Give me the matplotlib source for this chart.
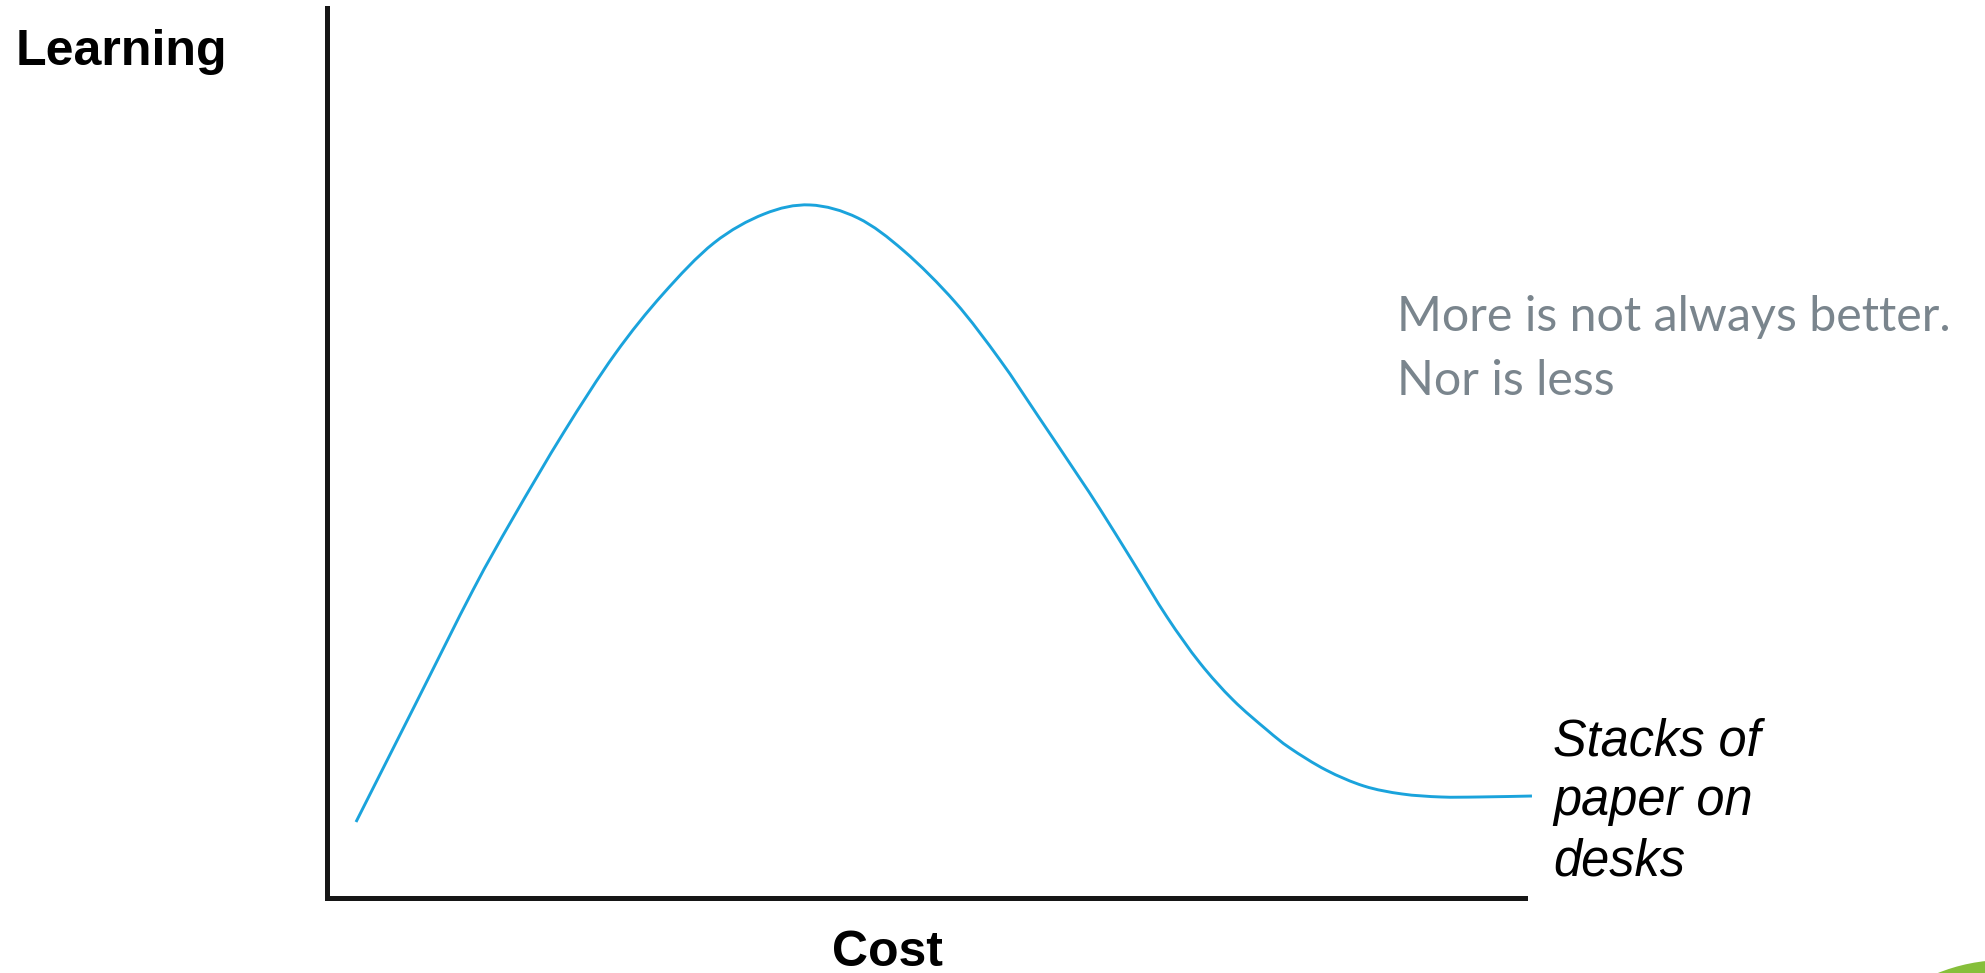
import matplotlib
matplotlib.use("Agg")
import matplotlib.pyplot as plt
from matplotlib.patches import Circle, PathPatch
from matplotlib.path import Path

# Learning as a function of cost (arbitrary 0-100 units on both axes)
cost = [2.42, 7.35, 12.19, 15.53, 19.78, 24.04, 28.05, 32.30, 36.48, 40.32,
        44.32, 48.16, 52.42, 56.18, 59.35, 62.60, 64.52, 67.28, 70.12, 72.87,
        75.63, 78.46, 80.38, 83.39, 86.56, 89.73, 92.99, 96.16, 100.58]
learning = [8.54, 21.69, 34.61, 42.70, 52.36, 61.12, 67.87, 73.60, 76.85, 77.87,
            76.40, 72.70, 66.97, 60.45, 54.16, 47.64, 43.71, 37.75, 31.57, 26.40,
            22.25, 18.88, 16.85, 14.38, 12.58, 11.69, 11.35, 11.35, 11.46]

x_label = "Cost"
y_label = "Learning"
note_lines = ["More is not always better.", "Nor is less"]
end_label_lines = ["Stacks of", "paper on", "desks"]

W, H = 1985, 973
fig = plt.figure(figsize=(W / 100, H / 100), dpi=100)
fig.patch.set_facecolor("white")


def fx(px):
    return px / W


def fy(py):
    return 1 - py / H


def smooth_path(xs, ys):
    """Catmull-Rom curve through the points, expressed as cubic Bezier segments."""
    pts = list(zip(xs, ys))
    n = len(pts)
    verts = [pts[0]]
    codes = [Path.MOVETO]
    for i in range(n - 1):
        p0 = pts[i - 1] if i > 0 else pts[i]
        p1 = pts[i]
        p2 = pts[i + 1]
        p3 = pts[i + 2] if i + 2 < n else pts[i + 1]
        c1 = (p1[0] + (p2[0] - p0[0]) / 6, p1[1] + (p2[1] - p0[1]) / 6)
        c2 = (p2[0] - (p3[0] - p1[0]) / 6, p2[1] - (p3[1] - p1[1]) / 6)
        verts += [c1, c2, p2]
        codes += [Path.CURVE4] * 3
    return Path(verts, codes)


ax = fig.add_axes([fx(327), fy(898), fx(1525) - fx(327), fy(8) - fy(898)])
ax.set_xlim(0, 100)
ax.set_ylim(0, 100)
for side in ("top", "right"):
    ax.spines[side].set_visible(False)
for side in ("left", "bottom"):
    ax.spines[side].set_linewidth(3.6)
    ax.spines[side].set_color("#161616")
    ax.spines[side].set_capstyle("projecting")
ax.set_xticks([])
ax.set_yticks([])
ax.patch.set_alpha(0)

curve = PathPatch(smooth_path(cost, learning), fill=False, edgecolor="#1aa3dc",
                  lw=2.1, transform=ax.transData, clip_on=False,
                  joinstyle="round", capstyle="butt")
ax.add_patch(curve)

arial = "Liberation Sans"
fig.text(fx(16), fy(65), y_label, fontsize=36, fontweight="bold",
         family=arial, ha="left", va="baseline")
fig.text(fx(887), fy(966), x_label, fontsize=36, fontweight="bold",
         family=arial, ha="center", va="baseline")

for line, base in zip(end_label_lines, [755, 815, 875]):
    fig.text(fx(1553), fy(base), line, fontsize=36.4, style="italic",
             family=arial, ha="left", va="baseline", color="black")

for line, base in zip(note_lines, [331, 395]):
    fig.text(fx(1397), fy(base), line, fontsize=34.8, family="Lato",
             ha="left", va="baseline", color="#7a858d")

# small globe emblem peeking in at the lower right corner
deco = fig.add_axes([0, 0, 1, 1], zorder=-1)
deco.set_xlim(0, W)
deco.set_ylim(H, 0)
deco.axis("off")
deco.add_patch(Circle((2005, 1140), 180, color="#86bf3a", lw=0))
deco.add_patch(Circle((2015, 1150), 172, color="#74ad2e", lw=0))

fig.savefig("out.png", dpi=100, facecolor="white")
